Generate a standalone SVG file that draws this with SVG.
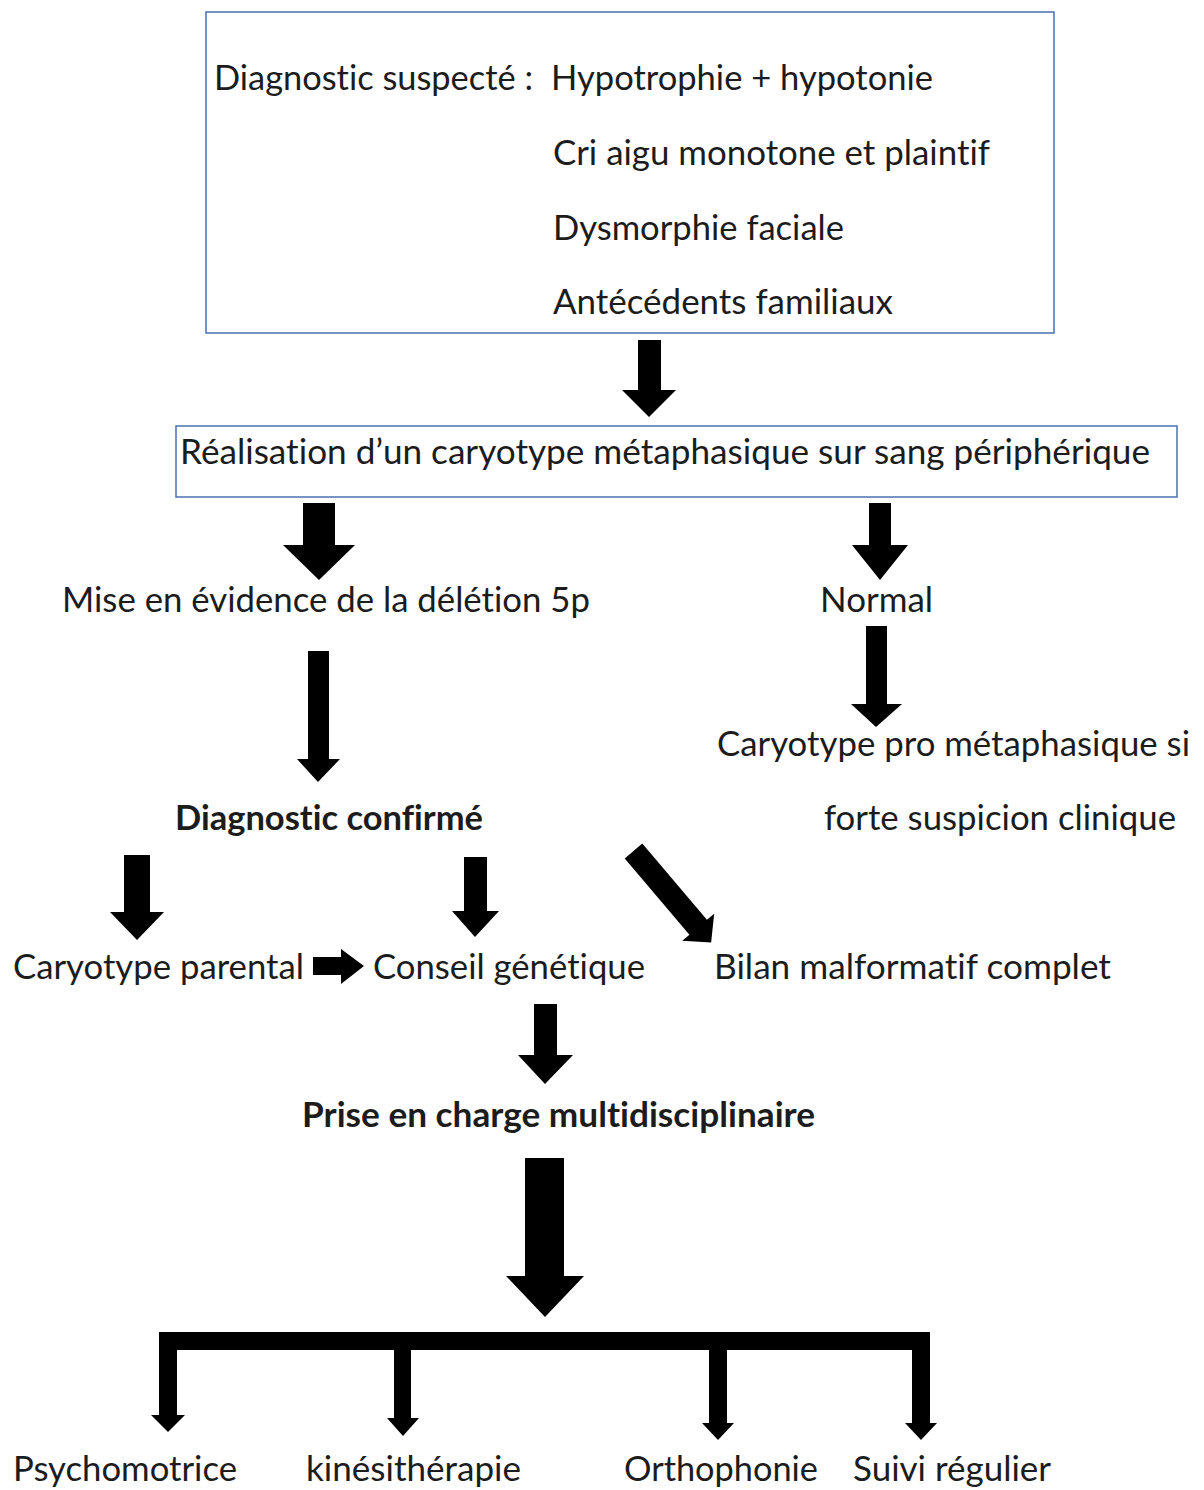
<svg xmlns="http://www.w3.org/2000/svg" width="1204" height="1490" viewBox="0 0 1204 1490">
  <style>
    .t { font-family: Lato, "Open Sans", "Liberation Sans", sans-serif; font-size: 34px; fill: #1c1c1c; font-variant-ligatures: none; font-feature-settings: "liga" 0, "clig" 0; }
    .b { font-weight: 700; }
    .box { fill: #ffffff; stroke: #4a70b0; stroke-width: 1.5; }
    .arr { fill: #000000; }
  </style>
  <rect x="0" y="0" width="1204" height="1490" fill="#ffffff"/>

  <!-- nodes -->
  <g id="suspicion">
    <rect class="box" x="206" y="12" width="848" height="321"/>
    <text class="t" x="214" y="90" textLength="319" lengthAdjust="spacingAndGlyphs">Diagnostic suspecté :</text>
    <text class="t" x="551" y="90" textLength="382" lengthAdjust="spacingAndGlyphs">Hypotrophie + hypotonie</text>
    <text class="t" x="553" y="165" textLength="437" lengthAdjust="spacingAndGlyphs">Cri aigu monotone et plaintif</text>
    <text class="t" x="553" y="240" textLength="291" lengthAdjust="spacingAndGlyphs">Dysmorphie faciale</text>
    <text class="t" x="553" y="314" textLength="340" lengthAdjust="spacingAndGlyphs">Antécédents familiaux</text>
  </g>
  <g id="caryotype">
    <rect class="box" x="176" y="426" width="1001" height="71"/>
    <text class="t" x="180" y="464" textLength="970" lengthAdjust="spacingAndGlyphs">Réalisation d’un caryotype métaphasique sur sang périphérique</text>
  </g>
  <g id="deletion">
    <text class="t" x="62" y="612" textLength="528" lengthAdjust="spacingAndGlyphs">Mise en évidence de la délétion 5p</text>
  </g>
  <g id="normal">
    <text class="t" x="820" y="612" textLength="113" lengthAdjust="spacingAndGlyphs">Normal</text>
  </g>
  <g id="pro-metaphasique">
    <text class="t" x="717" y="756" textLength="473" lengthAdjust="spacingAndGlyphs">Caryotype pro métaphasique si</text>
    <text class="t" x="824" y="830" textLength="352" lengthAdjust="spacingAndGlyphs">forte suspicion clinique</text>
  </g>
  <g id="confirme">
    <text class="t b" x="175" y="830" textLength="308" lengthAdjust="spacingAndGlyphs">Diagnostic confirmé</text>
  </g>
  <g id="parental">
    <text class="t" x="13" y="979" textLength="291" lengthAdjust="spacingAndGlyphs">Caryotype parental</text>
  </g>
  <g id="conseil">
    <text class="t" x="373" y="979" textLength="272" lengthAdjust="spacingAndGlyphs">Conseil génétique</text>
  </g>
  <g id="bilan">
    <text class="t" x="714" y="979" textLength="397" lengthAdjust="spacingAndGlyphs">Bilan malformatif complet</text>
  </g>
  <g id="prise-en-charge">
    <text class="t b" x="302" y="1127" textLength="513" lengthAdjust="spacingAndGlyphs">Prise en charge multidisciplinaire</text>
  </g>
  <g id="psychomotrice">
    <text class="t" x="13" y="1481" textLength="224" lengthAdjust="spacingAndGlyphs">Psychomotrice</text>
  </g>
  <g id="kinesitherapie">
    <text class="t" x="306" y="1481" textLength="215" lengthAdjust="spacingAndGlyphs">kinésithérapie</text>
  </g>
  <g id="orthophonie">
    <text class="t" x="624" y="1481" textLength="194" lengthAdjust="spacingAndGlyphs">Orthophonie</text>
  </g>
  <g id="suivi">
    <text class="t" x="853" y="1481" textLength="198" lengthAdjust="spacingAndGlyphs">Suivi régulier</text>
  </g>

  <!-- connectors: block arrows -->
  <g id="connectors" class="arr">
    <path d="M638,340 H661 V390 H676 L649,417 L622,390 H638 Z"/>
    <path d="M303,503 H335 V545 H355 L319,580 L283,545 H303 Z"/>
    <path d="M869,503 H891 V545 H908 L880,580 L852,545 H869 Z"/>
    <path d="M308,651 H329 V759 H340 L318,782 L297,759 H308 Z"/>
    <path d="M866,626 H887 V704 H902 L876,727 L851,704 H866 Z"/>
    <path d="M124,855 H150 V912 H164 L137,940 L110,912 H124 Z"/>
    <path d="M464,857 H487 V911 H499 L475,937 L452,911 H464 Z"/>
    <path transform="translate(633.5,851) rotate(49.7)" d="M0,-11.5 H100 V-21 L120,0 L100,21 V11.5 H0 Z"/>
    <path d="M313,957 H341 V949 L364,966 L341,984 V975 H313 Z"/>
    <path d="M534,1004 H557 V1055 H573 L545,1084 L518,1055 H534 Z"/>
    <path d="M525,1158 H564 V1276 H584 L545,1317 L506,1276 H525 Z"/>
    <rect x="159" y="1332" width="771" height="18"/>
    <path d="M159,1350 H177 V1415 H185 L168,1432 L151,1415 H159 Z"/>
    <path d="M394,1350 H411 V1418 H419 L403,1436 L387,1418 H394 Z"/>
    <path d="M709,1350 H727 V1423 H734 L718,1440 L702,1423 H709 Z"/>
    <path d="M912,1350 H930 V1423 H937 L921,1440 L905,1423 H912 Z"/>
  </g>
</svg>
